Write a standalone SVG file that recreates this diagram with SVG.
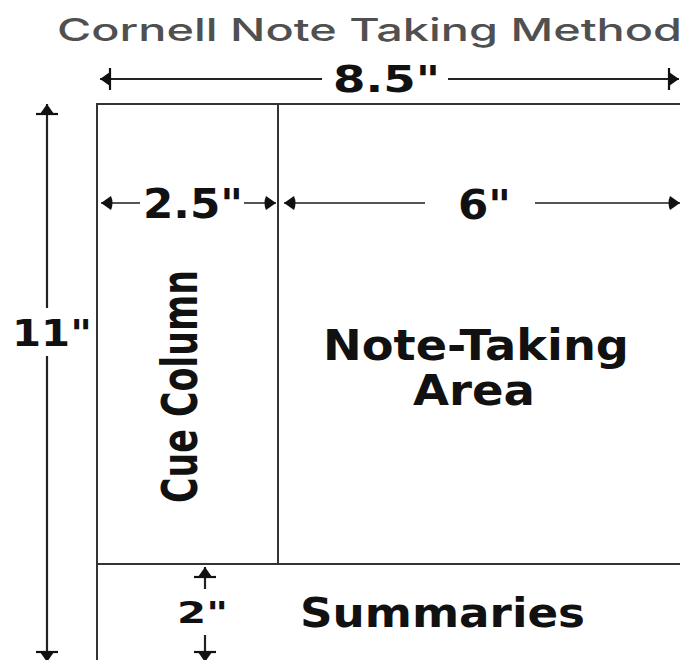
<svg xmlns="http://www.w3.org/2000/svg" width="680" height="660" viewBox="0 0 680 660">
<style>
.title{font-family:Inter,"Open Sans","Liberation Sans",sans-serif;font-weight:500;fill:#505050}
.cond{font-family:"DejaVu Sans Condensed","DejaVu Sans","Liberation Sans",sans-serif;font-weight:bold;fill:#111}
.lbl{font-family:"DejaVu Sans","Liberation Sans",sans-serif;font-weight:bold;fill:#111}
.page{fill:none;stroke:#333;stroke-width:2}
.dl{stroke:#222;stroke-width:2.2;fill:none}
.dl2{stroke:#555;stroke-width:2;fill:none}
</style>
<defs>
<marker id="hb" viewBox="0 0 15 22" refX="14" refY="11" markerWidth="15" markerHeight="22" markerUnits="userSpaceOnUse" orient="auto-start-reverse">
<path d="M14,11 L4,4 L4,18 Z" fill="#111"/>
<path d="M4,0 V22" stroke="#111" stroke-width="2.2"/>
</marker>
<marker id="h" viewBox="0 0 13 16" refX="13" refY="8" markerWidth="13" markerHeight="16" markerUnits="userSpaceOnUse" orient="auto-start-reverse">
<path d="M13,8 L3,1 Q0,8 3,15 Z" fill="#111"/>
</marker>
</defs>
<rect width="680" height="660" fill="#fff"/>
<text class="title" x="57" y="41" font-size="31" textLength="625" lengthAdjust="spacingAndGlyphs">Cornell Note Taking Method</text>
<g id="page">
<path class="page" d="M97,662 V104 H682"/>
<line class="page" x1="278" y1="104" x2="278" y2="564"/>
<line class="page" x1="97" y1="564" x2="682" y2="564"/>
</g>
<g id="connectors">
<line class="dl" x1="100" y1="79" x2="322" y2="79" marker-start="url(#hb)"/>
<line class="dl" x1="448" y1="79" x2="679" y2="79" marker-end="url(#hb)"/>
<line class="dl" x1="47" y1="104" x2="47" y2="308" marker-start="url(#hb)"/>
<line class="dl" x1="47" y1="356" x2="47" y2="662" marker-end="url(#hb)"/>
<line class="dl2" x1="101" y1="203" x2="140" y2="203" marker-start="url(#h)"/>
<line class="dl2" x1="244" y1="203" x2="276" y2="203" marker-end="url(#h)"/>
<line class="dl2" x1="284" y1="203" x2="425" y2="203" marker-start="url(#h)"/>
<line class="dl2" x1="535" y1="203" x2="680" y2="203" marker-end="url(#h)"/>
<line class="dl" x1="205" y1="567" x2="205" y2="589" marker-start="url(#hb)"/>
<line class="dl" x1="205" y1="635" x2="205" y2="662" marker-end="url(#hb)"/>
</g>
<g id="dim-labels">
<text class="cond" x="333" y="92" font-size="38" textLength="107" lengthAdjust="spacingAndGlyphs">8.5"</text>
<text class="lbl" x="12" y="346" font-size="37" textLength="80" lengthAdjust="spacingAndGlyphs">11"</text>
<text class="lbl" x="143" y="218" font-size="40" textLength="100" lengthAdjust="spacingAndGlyphs">2.5"</text>
<text class="lbl" x="458" y="219" font-size="41" textLength="53" lengthAdjust="spacingAndGlyphs">6"</text>
<text class="lbl" x="177" y="623" font-size="31" textLength="51" lengthAdjust="spacingAndGlyphs">2"</text>
</g>
<g id="cue-column">
<text class="lbl" transform="translate(197,503) rotate(-90)" x="0" y="0" font-size="50" textLength="233" lengthAdjust="spacingAndGlyphs">Cue Column</text>
</g>
<g id="note-taking-area">
<text class="lbl" x="476" y="360" font-size="42" text-anchor="middle" textLength="306" lengthAdjust="spacingAndGlyphs">Note-Taking</text>
<text class="lbl" x="474" y="405" font-size="42" text-anchor="middle" textLength="122" lengthAdjust="spacingAndGlyphs">Area</text>
</g>
<g id="summaries">
<text class="lbl" x="300" y="627" font-size="40" textLength="285" lengthAdjust="spacingAndGlyphs">Summaries</text>
</g>
</svg>
